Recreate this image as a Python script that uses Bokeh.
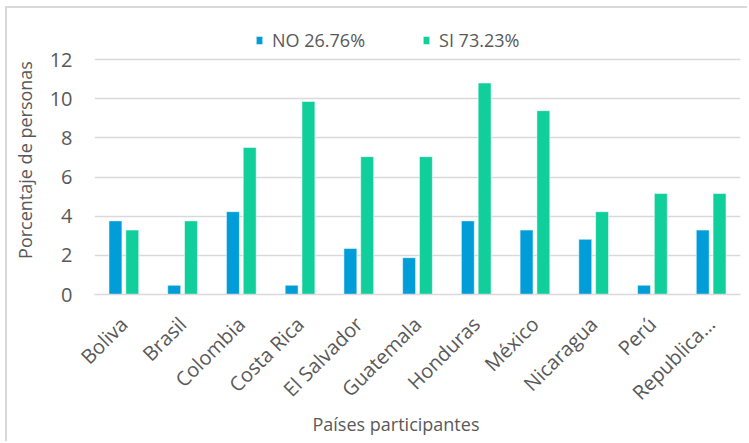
import math
from bokeh.plotting import figure
from bokeh.models import (ColumnDataSource, FactorRange, Range1d, Legend, LegendItem,
                          Title, FixedTicker)
from bokeh.transform import dodge
from bokeh.embed import file_html
from bokeh.resources import INLINE

countries = ["Boliva", "Brasil", "Colombia", "Costa Rica", "El Salvador", "Guatemala",
             "Honduras", "México", "Nicaragua", "Perú", "Republica…"]
no_vals = [3.76, 0.47, 4.23, 0.47, 2.35, 1.88, 3.76, 3.29, 2.82, 0.47, 3.29]
si_vals = [3.29, 3.76, 7.51, 9.86, 7.04, 7.04, 10.80, 9.39, 4.23, 5.16, 5.16]
series_labels = ["NO 26.76%", "SI 73.23%"]
y_ticks = [0, 2, 4, 6, 8, 10, 12]

FONT = "Open Sans"
TXT = "#595959"
GRID = "#D9D9D9"
C_NO = "#009DD9"
C_SI = "#10CF9B"

src = ColumnDataSource(dict(country=countries, no=no_vals, si=si_vals))

# frame extends above the 12 gridline to hold the legend (as in the reference)
p = figure(width=742, height=435, output_backend="svg", toolbar_location=None,
           x_range=FactorRange(*countries, range_padding=0),
           y_range=Range1d(0, 13.74),
           min_border_left=87, min_border_right=9, min_border_top=17,
           min_border_bottom=149)
p.styles = {"margin-left": "5px", "margin-top": "6px",
            "border-left": "2px solid #D9D9D9", "border-top": "2px solid #D9D9D9"}
p.outline_line_color = None
p.background_fill_color = "white"
p.border_fill_color = "white"

r_no = p.vbar(x=dodge("country", -0.143, range=p.x_range), top="no", width=0.22,
              source=src, fill_color=C_NO, line_color="white", line_alpha=0.5, line_width=1)
r_si = p.vbar(x=dodge("country", 0.143, range=p.x_range), top="si", width=0.22,
              source=src, fill_color=C_SI, line_color="white", line_alpha=0.5, line_width=1)

# grid
p.xgrid.grid_line_color = None
p.ygrid.grid_line_color = GRID
p.ygrid.grid_line_width = 1.5

# y axis
p.yaxis.ticker = FixedTicker(ticks=y_ticks)
p.yaxis.axis_line_color = None
p.yaxis.major_tick_line_color = None
p.yaxis.minor_tick_line_color = None
p.yaxis.major_tick_out = 0
p.yaxis.major_label_standoff = 22
p.yaxis.major_label_text_font = FONT
p.yaxis.major_label_text_font_size = "20px"
p.yaxis.major_label_text_color = TXT
p.yaxis.axis_label = "Porcentaje de personas"
p.yaxis.axis_label_text_font = FONT
p.yaxis.axis_label_text_font_size = "18px"
p.yaxis.axis_label_text_font_style = "normal"
p.yaxis.axis_label_text_color = TXT
p.yaxis.axis_label_standoff = 10

# x axis
p.xaxis.axis_line_color = GRID
p.xaxis.axis_line_width = 1.5
p.xaxis.major_tick_line_color = None
p.xaxis.minor_tick_line_color = None
p.xaxis.major_tick_out = 0
p.xaxis.major_label_orientation = math.pi / 4
p.xaxis.major_label_standoff = 26
p.xaxis.major_label_text_font = FONT
p.xaxis.major_label_text_font_size = "20px"
p.xaxis.major_label_text_color = TXT

p.add_layout(Title(text="Países participantes", align="left", offset=218,
                   standoff=-18, text_font=FONT, text_font_size="18px",
                   text_font_style="normal", text_color=TXT), "below")

legend = Legend(items=[LegendItem(label=series_labels[0], renderers=[r_no]),
                       LegendItem(label=series_labels[1], renderers=[r_si])],
                orientation="horizontal", location=(161, 242),
                padding=0, spacing=57, label_standoff=9,
                glyph_width=8, glyph_height=10,
                label_text_font=FONT, label_text_font_size="18px",
                label_text_color=TXT, background_fill_alpha=0,
                border_line_alpha=0)
p.add_layout(legend, "center")

open("out.html", "w").write(file_html(p, INLINE))
